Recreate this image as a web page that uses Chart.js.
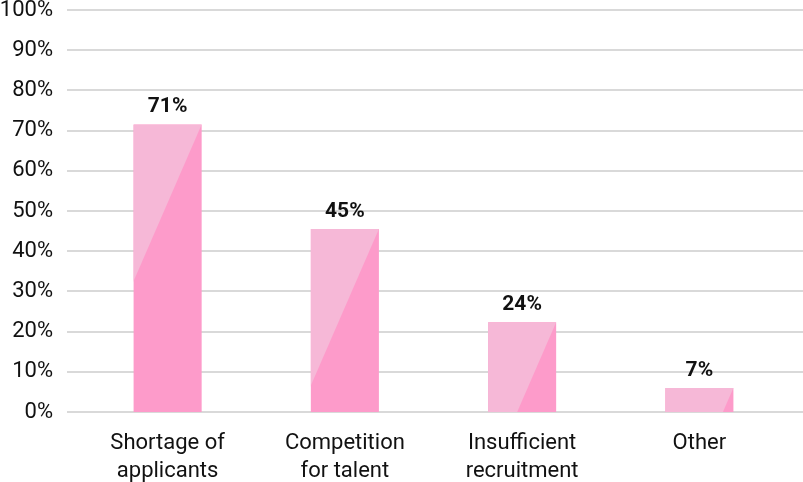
<!DOCTYPE html>
<html>
<head>
<meta charset="utf-8">
<script src="https://cdn.jsdelivr.net/npm/chart.js@4"></script>
<style>
  html, body { margin: 0; padding: 0; background: #fff; }
  #wrap { width: 803px; height: 482px; }
</style>
</head>
<body>
<div id="wrap"><canvas id="chart" width="803" height="482"></canvas></div>
<script>
const categories = [
  ["Shortage of", "applicants"],
  ["Competition", "for talent"],
  ["Insufficient", "recruitment"],
  "Other"
];
const barValues = [71.5, 45.5, 22.3, 6.0];
const barLabels = ["71%", "45%", "24%", "7%"];
const yTicks = [0, 10, 20, 30, 40, 50, 60, 70, 80, 90, 100];

const lightPink = "#f6b8d7";
const darkPink = "#fd9bca";
const textColor = "#111111";

// horizontal grid drawn across the full width
const gridPlugin = {
  id: "wideGrid",
  beforeDatasetsDraw(chart) {
    const ctx = chart.ctx;
    const y = chart.scales.y;
    ctx.save();
    ctx.strokeStyle = "#d9d9d9";
    ctx.lineWidth = 2;
    yTicks.forEach((v) => {
      const py = Math.round(y.getPixelForValue(v));
      ctx.beginPath();
      ctx.moveTo(67, py);
      ctx.lineTo(chart.width, py);
      ctx.stroke();
    });
    ctx.restore();
  }
};

// light triangle on top of each bar + value labels
const barDecor = {
  id: "barDecor",
  afterDatasetsDraw(chart) {
    const ctx = chart.ctx;
    const meta = chart.getDatasetMeta(0);
    const slope = 2.3;
    meta.data.forEach((bar, i) => {
      const left = bar.x - bar.width / 2;
      const right = bar.x + bar.width / 2;
      const top = bar.y;
      const bottom = bar.base;
      ctx.save();
      ctx.beginPath();
      ctx.rect(left, top, right - left, bottom - top);
      ctx.clip();
      ctx.fillStyle = lightPink;
      ctx.beginPath();
      ctx.moveTo(right, top);
      ctx.lineTo(right - 1000, top + 1000 * slope);
      ctx.lineTo(right - 1000, top);
      ctx.closePath();
      ctx.fill();
      ctx.restore();

      ctx.save();
      ctx.fillStyle = textColor;
      ctx.font = "bold 21px Roboto";
      ctx.textAlign = "center";
      ctx.textBaseline = "bottom";
      ctx.fillText(barLabels[i], bar.x, top - 7);
      ctx.restore();
    });
  }
};

new Chart(document.getElementById("chart"), {
  type: "bar",
  data: {
    labels: categories,
    datasets: [
      {
        data: barValues,
        backgroundColor: darkPink,
        borderWidth: 0,
        barPercentage: 0.384,
        categoryPercentage: 1
      }
    ]
  },
  options: {
    responsive: false,
    animation: false,
    layout: { padding: { top: 10, right: 15, bottom: 0, left: 0 } },
    plugins: { legend: { display: false }, tooltip: { enabled: false } },
    scales: {
      x: {
        grid: { display: false, drawTicks: false },
        border: { display: false },
        ticks: {
          color: textColor,
          font: { family: "Roboto", size: 22, lineHeight: 1.25 },
          padding: 18,
          maxRotation: 0,
          autoSkip: false
        },
        afterFit(scale) { scale.height = 70; }
      },
      y: {
        min: 0,
        max: 100,
        grid: { display: false, drawTicks: true, tickLength: 26 },
        border: { display: false },
        afterBuildTicks(scale) { scale.ticks = yTicks.map((v) => ({ value: v })); },
        ticks: {
          color: textColor,
          font: { family: "Roboto", size: 22, lineHeight: 0.9 },
          padding: 0,
          callback: (v) => v + "%"
        },
        afterFit(scale) { scale.width = 79; }
      }
    }
  },
  plugins: [gridPlugin, barDecor]
});
</script>
</body>
</html>
